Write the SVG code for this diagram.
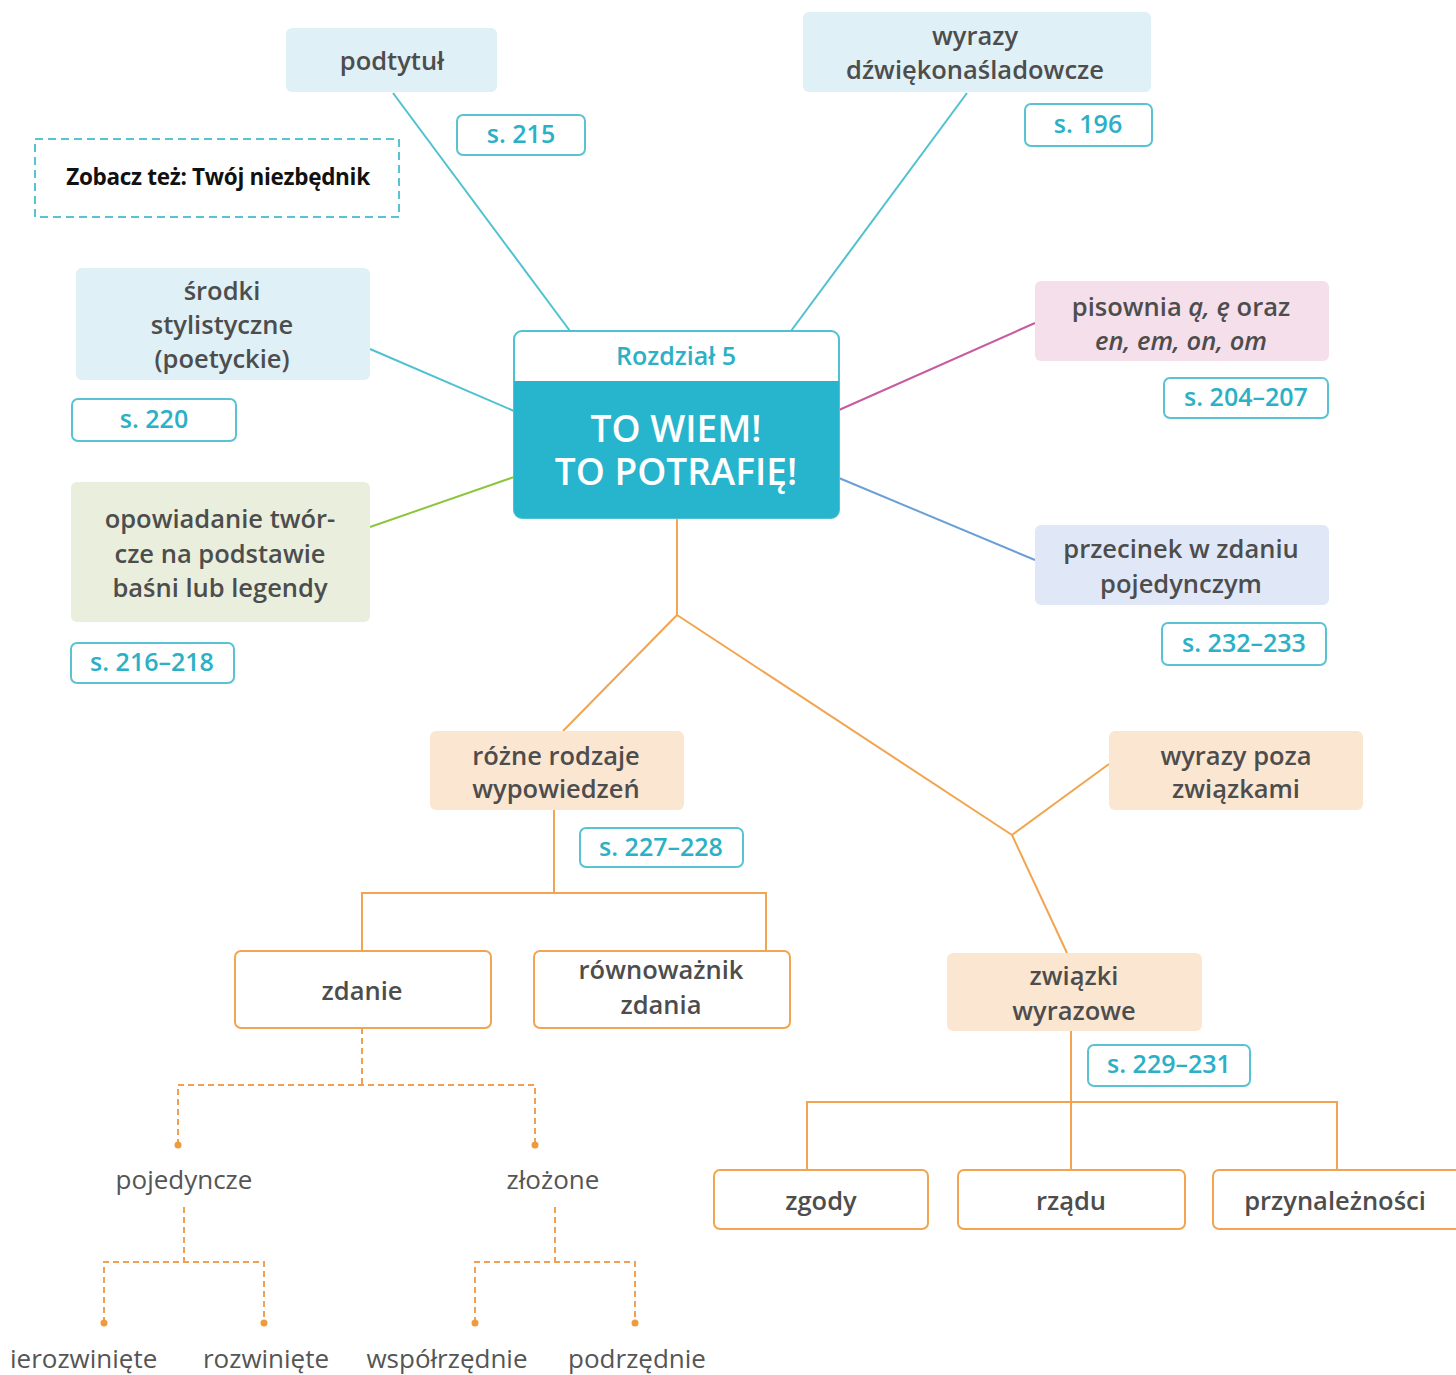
<svg xmlns="http://www.w3.org/2000/svg" width="1456" height="1375" viewBox="0 0 1456 1375">
<style>
.t{font-family:"Open Sans","Noto Sans","Liberation Sans",sans-serif;font-size:25.5px;fill:#4d4d4d;text-anchor:middle;font-weight:600}
.l{font-family:"Open Sans","Noto Sans","Liberation Sans",sans-serif;font-size:26px;fill:#555;text-anchor:middle;font-weight:400}
.pg{font-family:"Open Sans","Noto Sans","Liberation Sans",sans-serif;font-size:25px;fill:#2bb0c6;text-anchor:middle;font-weight:600}
.pgb{fill:#fff;stroke:#5ac3d3;stroke-width:2}
.blue{fill:#dff0f6}
.peach{fill:#fbe6d2}
.ob{fill:#fff;stroke:#f2a550;stroke-width:2}
.c{fill:none;stroke-width:2}
.teal{stroke:#4fc1d0}
.or{stroke:#f2a550}
.dash{stroke:#f0a050;stroke-dasharray:6 4}
.dot{fill:#ef9a3c}
.big{font-family:"Open Sans","Liberation Sans",sans-serif;font-size:37px;font-weight:600;fill:#fff;text-anchor:middle}
</style>
<rect width="1456" height="1375" fill="#fff"/>
<g id="connectors">
<line class="c teal" x1="393" y1="93" x2="570" y2="331"/>
<line class="c teal" x1="967" y1="93" x2="791" y2="331"/>
<line class="c teal" x1="370" y1="349" x2="514" y2="411"/>
<line class="c" stroke="#8cc63f" x1="370" y1="527" x2="514" y2="477"/>
<line class="c" stroke="#c65b9f" x1="1035" y1="323" x2="839" y2="410"/>
<line class="c" stroke="#6b9fd6" x1="839" y1="478" x2="1035" y2="560"/>
<polyline class="c or" points="677,518 677,615 563,731"/>
<line class="c or" x1="677" y1="615" x2="1012" y2="835"/>
<line class="c or" x1="1012" y1="835" x2="1109" y2="764"/>
<line class="c or" x1="1012" y1="835" x2="1067" y2="953"/>
<line class="c or" x1="554" y1="810" x2="554" y2="893"/>
<polyline class="c or" points="362,951 362,893 766,893 766,951"/>
<line class="c or" x1="1071" y1="1031" x2="1071" y2="1170"/>
<polyline class="c or" points="807,1170 807,1102 1337,1102 1337,1170"/>
<line class="c dash" x1="362" y1="1028" x2="362" y2="1085"/>
<polyline class="c dash" points="178,1145 178,1085 535,1085 535,1145"/>
<line class="c dash" x1="184" y1="1207" x2="184" y2="1262"/>
<polyline class="c dash" points="104,1323 104,1262 264,1262 264,1323"/>
<line class="c dash" x1="555" y1="1207" x2="555" y2="1262"/>
<polyline class="c dash" points="475,1323 475,1262 635,1262 635,1323"/>
<circle class="dot" cx="178" cy="1145" r="3.5"/>
<circle class="dot" cx="535" cy="1145" r="3.5"/>
<circle class="dot" cx="104" cy="1323" r="3.5"/>
<circle class="dot" cx="264" cy="1323" r="3.5"/>
<circle class="dot" cx="475" cy="1323" r="3.5"/>
<circle class="dot" cx="635" cy="1323" r="3.5"/>
</g>
<g id="podtytul"><rect class="blue" x="286" y="28" width="211" height="64" rx="6"/><text class="t" x="392" y="70">podtytuł</text></g>
<g id="p215"><rect class="pgb" x="457" y="115" width="128" height="40" rx="6"/><text class="pg" x="521" y="143">s. 215</text></g>
<g id="zobacz"><rect x="35" y="139" width="364" height="78" fill="#fff" stroke="#5ac3d3" stroke-width="2" stroke-dasharray="8 5"/><text x="218" y="185" style="font-family:'Open Sans','Liberation Sans',sans-serif;font-size:22.5px;font-weight:700;fill:#111;text-anchor:middle;letter-spacing:-0.3px">Zobacz też: Twój niezbędnik</text></g>
<g id="wyrazy"><rect class="blue" x="803" y="12" width="348" height="80" rx="6"/><text class="t" x="975" y="45">wyrazy</text><text class="t" x="975" y="79">dźwiękonaśladowcze</text></g>
<g id="p196"><rect class="pgb" x="1025" y="104" width="127" height="42" rx="6"/><text class="pg" x="1088" y="133">s. 196</text></g>
<g id="srodki"><rect class="blue" x="76" y="268" width="294" height="112" rx="6"/><text class="t" x="222" y="300">środki</text><text class="t" x="222" y="334">stylistyczne</text><text class="t" x="222" y="368">(poetyckie)</text></g>
<g id="p220"><rect class="pgb" x="72" y="399" width="164" height="42" rx="6"/><text class="pg" x="154" y="428">s. 220</text></g>
<g id="opowiadanie"><rect fill="#e9efdc" x="71" y="482" width="299" height="140" rx="6"/><text class="t" x="220" y="528">opowiadanie twór-</text><text class="t" x="220" y="563">cze na podstawie</text><text class="t" x="220" y="597">baśni lub legendy</text></g>
<g id="p216"><rect class="pgb" x="71" y="643" width="163" height="40" rx="6"/><text class="pg" x="152" y="671">s. 216–218</text></g>
<g id="central"><rect x="514" y="331" width="325" height="187" rx="8" fill="#fff" stroke="#4fc1d0" stroke-width="2"/><path d="M514,381 H839 V510 a8,8 0 0 1 -8,8 H522 a8,8 0 0 1 -8,-8 Z" fill="#27b4cd"/><text class="pg" x="676" y="365">Rozdział 5</text><text class="big"><tspan x="676" y="442">TO WIEM!</tspan><tspan x="676" y="485">TO POTRAFIĘ!</tspan></text></g>
<g id="pisownia"><rect fill="#f4dfea" x="1035" y="281" width="294" height="80" rx="6"/><text class="t" x="1181" y="316">pisownia <tspan font-style="italic">ą, ę</tspan> oraz</text><text class="t" x="1181" y="350" font-style="italic">en, em, on, om</text></g>
<g id="p204"><rect class="pgb" x="1164" y="378" width="164" height="40" rx="6"/><text class="pg" x="1246" y="406">s. 204–207</text></g>
<g id="przecinek"><rect fill="#e0e8f7" x="1035" y="525" width="294" height="80" rx="6"/><text class="t" x="1181" y="558">przecinek w zdaniu</text><text class="t" x="1181" y="593">pojedynczym</text></g>
<g id="p232"><rect class="pgb" x="1162" y="623" width="164" height="42" rx="6"/><text class="pg" x="1244" y="652">s. 232–233</text></g>
<g id="rozne"><rect class="peach" x="430" y="731" width="254" height="79" rx="6"/><text class="t" x="556" y="765">różne rodzaje</text><text class="t" x="556" y="798">wypowiedzeń</text></g>
<g id="p227"><rect class="pgb" x="580" y="828" width="163" height="39" rx="6"/><text class="pg" x="661" y="856">s. 227–228</text></g>
<g id="poza"><rect class="peach" x="1109" y="731" width="254" height="79" rx="6"/><text class="t" x="1236" y="765">wyrazy poza</text><text class="t" x="1236" y="798">związkami</text></g>
<g id="zdanie"><rect class="ob" x="235" y="951" width="256" height="77" rx="6"/><text class="t" x="362" y="1000">zdanie</text></g>
<g id="rownowaznik"><rect class="ob" x="534" y="951" width="256" height="77" rx="6"/><text class="t" x="661" y="979">równoważnik</text><text class="t" x="661" y="1014">zdania</text></g>
<g id="zwiazki"><rect class="peach" x="947" y="953" width="255" height="78" rx="6"/><text class="t" x="1074" y="985">związki</text><text class="t" x="1074" y="1020">wyrazowe</text></g>
<g id="p229"><rect class="pgb" x="1088" y="1045" width="162" height="41" rx="6"/><text class="pg" x="1169" y="1073">s. 229–231</text></g>
<g id="zgody"><rect class="ob" x="714" y="1170" width="214" height="59" rx="6"/><text class="t" x="821" y="1210">zgody</text></g>
<g id="rzadu"><rect class="ob" x="958" y="1170" width="227" height="59" rx="6"/><text class="t" x="1071" y="1210">rządu</text></g>
<g id="przynaleznosci"><rect class="ob" x="1213" y="1170" width="250" height="59" rx="6"/><text class="t" x="1335" y="1210">przynależności</text></g>
<g id="pojedyncze"><text class="l" x="184" y="1189">pojedyncze</text></g>
<g id="zlozone"><text class="l" x="553" y="1189">złożone</text></g>
<g id="nierozwiniete"><text class="l" x="10" y="1368" style="text-anchor:start">ierozwinięte</text></g>
<g id="rozwiniete"><text class="l" x="266" y="1368">rozwinięte</text></g>
<g id="wspolrzedne"><text class="l" x="447" y="1368">współrzędnie</text></g>
<g id="podrzedne"><text class="l" x="637" y="1368">podrzędnie</text></g>
</svg>
